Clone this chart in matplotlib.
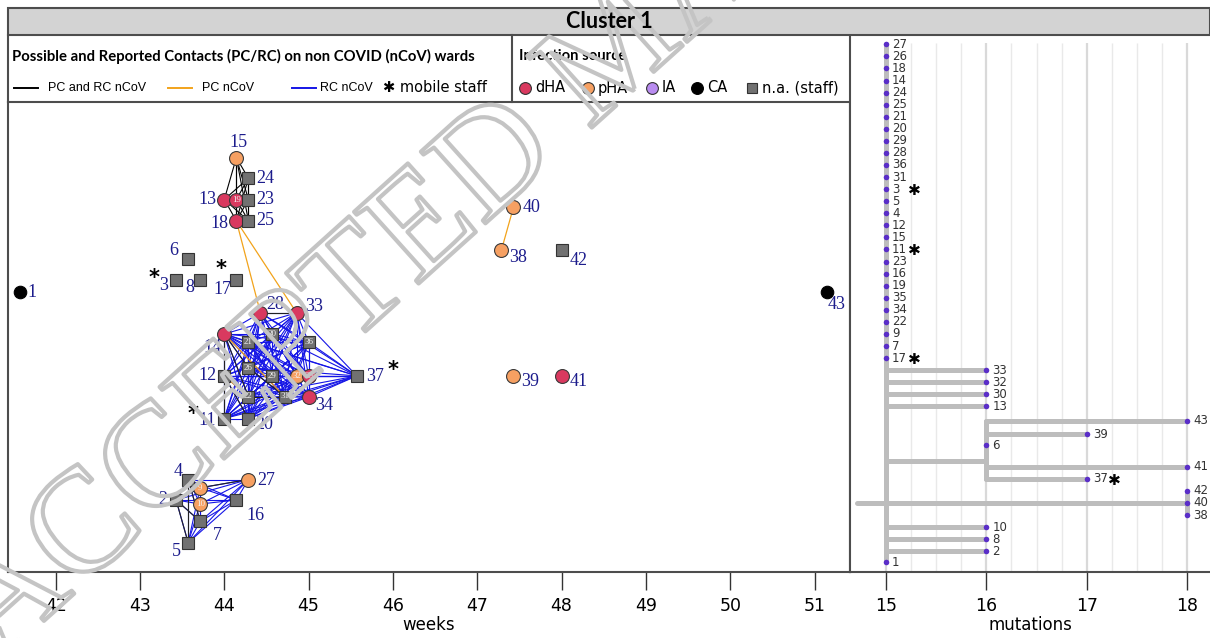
import numpy as np
import matplotlib.pyplot as plt
import matplotlib.patheffects as pe
from matplotlib.lines import Line2D
from matplotlib.patches import Rectangle
from itertools import combinations

# ---------------- data ----------------
# nodes of the contact network: id, calendar week, weekday, vertical layout row, infection source
node_id = [1, 15, 24, 13, 19, 23, 18, 25, 6, 3, 8, 17, 28, 33, 14, 21, 30, 36, 12, 26, 29, 32,
           35, 37, 22, 31, 34, 11, 20, 4, 9, 27, 2, 10, 16, 7, 5, 40, 38, 42, 39, 41, 43]
node_week = [41, 44, 44, 44, 44, 44, 44, 44, 43, 43, 43, 44, 44, 44, 44, 44, 44, 45, 44, 44, 44, 44,
             45, 45, 44, 44, 45, 44, 44, 43, 43, 44, 43, 43, 44, 43, 43, 47, 47, 48, 47, 48, 51]
node_day = [4, 1, 2, 0, 1, 2, 1, 2, 4, 3, 5, 1, 3, 6, 0, 2, 4, 0, 0, 2, 4, 6,
            0, 4, 2, 5, 0, 0, 2, 4, 5, 2, 3, 5, 1, 5, 4, 3, 2, 0, 3, 0, 1]
node_row = [291.5, 157.7, 178.2, 199.5, 199.5, 199.5, 220.8, 220.8, 258.5, 279.5, 279.5, 280.0,
            312.8, 312.8, 334.0, 342.3, 334.0, 342.3, 375.9, 367.7, 375.9, 375.9, 375.9, 375.9,
            396.5, 396.5, 397.0, 418.5, 418.5, 479.5, 487.8, 479.5, 500.0, 504.0, 500.0, 521.4,
            542.7, 207.4, 250.3, 249.6, 375.9, 375.9, 291.5]
node_src = ['CA', 'pHA', 'na', 'dHA', 'dHA', 'na', 'dHA', 'na', 'na', 'na', 'na', 'na',
            'dHA', 'dHA', 'dHA', 'na', 'na', 'na', 'na', 'na', 'na', 'pHA', 'dHA', 'na',
            'na', 'na', 'dHA', 'na', 'na', 'na', 'pHA', 'pHA', 'na', 'pHA', 'na', 'na', 'na',
            'pHA', 'pHA', 'na', 'pHA', 'dHA', 'CA']
mobile_staff = [3, 11, 17, 37]

# contacts: wards where everybody had contact with everybody, plus single contacts
ward_black = [15, 24, 13, 19, 23, 18, 25]
ward_blue_a = [28, 33, 14, 21, 30, 36, 12, 26, 29, 32, 35, 37, 22, 31, 34, 11, 20]
ward_blue_b = [4, 9, 27, 2, 10, 16, 7, 5]
edges_black = [(28, 33), (14, 12), (12, 11), (14, 26), (14, 22), (22, 31), (26, 31), (12, 20),
               (4, 2), (2, 5), (4, 5), (4, 7), (2, 7), (9, 27), (2, 9)]
edges_orange = [(18, 28), (18, 33), (40, 38), (14, 31), (12, 22)]

# phylogeny (mutations)
tip_label = [27, 26, 18, 14, 24, 25, 21, 20, 29, 28, 36, 31, 3, 5, 4, 12, 15, 11, 23, 16, 19, 35,
             34, 22, 9, 7, 17, 33, 32, 30, 13, 43, 39, 6, 41, 37, 42, 40, 38, 10, 8, 2, 1]
tip_mut = [15, 15, 15, 15, 15, 15, 15, 15, 15, 15, 15, 15, 15, 15, 15, 15, 15, 15, 15, 15, 15, 15,
           15, 15, 15, 15, 15, 16, 16, 16, 16, 18, 17, 16, 18, 17, 18, 18, 18, 16, 16, 16, 15]
tip_row = [0, 1, 2, 3, 4, 5, 6, 7, 8, 9, 10, 11, 12, 13, 14, 15, 16, 17, 18, 19, 20, 21,
           22, 23, 24, 25, 26, 27, 28, 29, 30, 31.2, 32.3, 33.2, 35, 36, 37, 38, 39, 40, 41, 42, 42.9]
# branches: horizontal (x0, x1, row) and vertical (x, row0, row1)
branch_h = [(14.71, 18, 38), (15, 16, 27), (15, 16, 28), (15, 16, 29), (15, 16, 30),
            (15, 16, 34.5), (16, 18, 31.2), (16, 17, 32.3), (16, 18, 35), (16, 17, 36),
            (15, 16, 40), (15, 16, 41), (15, 16, 42)]
branch_v = [(15, 0, 42.9), (16, 31.2, 36), (18, 37, 39)]

week_ticks = [42, 43, 44, 45, 46, 47, 48, 49, 50, 51]
mut_ticks = [15, 16, 17, 18]

# ---------------- style ----------------
col = {'dHA': '#d9395f', 'pHA': '#f6a062', 'IA': '#b98cf0', 'CA': '#000000', 'na': '#717171'}
blue, orange, frame = '#1515e6', '#f2a31b', '#4d4d4d'
label_blue = '#1c1c8c'
# label offsets (px right, px down, alignment)
lab_off = {1: (8, 1, 'left'), 15: (2, -15, 'center'), 24: (8, 0, 'left'), 13: (-8, 0, 'right'),
           23: (8, 0, 'left'), 18: (-8, 3, 'right'), 25: (8, 0, 'left'), 6: (-14, -8, 'center'),
           3: (-12, 6, 'center'), 8: (-10, 8, 'center'), 17: (-14, 9, 'center'),
           28: (15, -8, 'center'), 33: (18, -6, 'center'), 14: (-12, 13, 'center'),
           12: (-8, 0, 'right'), 37: (9, 1, 'left'), 34: (16, 9, 'center'), 11: (-8, 2, 'right'),
           20: (16, 6, 'center'), 4: (-10, -8, 'center'), 27: (9, 1, 'left'), 2: (-9, 0, 'right'),
           16: (19, 16, 'center'), 7: (17, 14, 'center'), 5: (-12, 9, 'center'),
           40: (9, 0, 'left'), 38: (17, 7, 'center'), 42: (17, 11, 'center'),
           39: (17, 6, 'center'), 41: (17, 6, 'center'), 43: (10, 13, 'center')}
star_off = {3: (-22, -1), 17: (-15, -11), 11: (-31, -5), 37: (36, -6)}

W, H = 1210, 638
fig = plt.figure(figsize=(W / 100, H / 100), dpi=100)


def fx(x):
    return x / W


def fy(y):
    return 1 - y / H


# title band and legend frame
fig.add_artist(Rectangle((fx(8), fy(35)), fx(1210 - 8), 27 / H, transform=fig.transFigure,
                         facecolor='#d3d3d3', edgecolor=frame, lw=1.5))
fig.text(fx(609), fy(21), 'Cluster 1', ha='center', va='center', fontsize=15.5,
         fontweight='bold', family='Lato', zorder=12)
for (x0, y0, x1, y1) in [(8, 35, 8, 102), (512, 35, 512, 102)]:
    fig.add_artist(Line2D([fx(x0), fx(x1)], [fy(y0), fy(y1)], color=frame, lw=1.5,
                          transform=fig.transFigure))

fig.text(fx(12), fy(56), 'Possible and Reported Contacts (PC/RC) on non COVID (nCoV) wards',
         va='center', fontsize=10.7, fontweight='bold', family='Lato')
fig.text(fx(519), fy(56), 'Infection source', va='center', fontsize=10.7,
         fontweight='bold', family='Lato')
for x0, c, txt, tx in [(14, 'black', 'PC and RC nCoV', 48), (168, orange, 'PC nCoV', 202),
                       (292, blue, 'RC nCoV', 320)]:
    fig.add_artist(Line2D([fx(x0), fx(x0 + 24)], [fy(88), fy(88)], color=c, lw=1.4,
                          transform=fig.transFigure))
    fig.text(fx(tx), fy(88), txt, va='center', fontsize=9, family='Liberation Sans')
fig.text(fx(383), fy(88), '✱ mobile staff', va='center', fontsize=10.5, family='DejaVu Sans')
for x0, key, txt in [(525, 'dHA', 'dHA'), (588, 'pHA', 'pHA'), (652, 'IA', 'IA'),
                     (697, 'CA', 'CA')]:
    fig.add_artist(Line2D([fx(x0)], [fy(88)], marker='o', ms=8.5, mfc=col[key],
                          mec='#333333' if key != 'CA' else 'black', mew=0.8,
                          transform=fig.transFigure))
    fig.text(fx(x0 + 10), fy(88), txt, va='center', fontsize=10.5, family='DejaVu Sans')
fig.add_artist(Line2D([fx(752)], [fy(88)], marker='s', ms=7.5, mfc=col['na'], mec='#333333',
                      mew=0.8, transform=fig.transFigure))
fig.text(fx(762), fy(88), 'n.a. (staff)', va='center', fontsize=10.5, family='DejaVu Sans')

# ---------------- network panel ----------------
ax = fig.add_axes([fx(8), fy(572), fx(850 - 8), (572 - 102) / H])
pos = {n: (w + d / 7, r) for n, w, d, r in zip(node_id, node_week, node_day, node_row)}
src = dict(zip(node_id, node_src))


def draw_edges(pairs, c, lw, z):
    for a, b in pairs:
        ax.plot([pos[a][0], pos[b][0]], [pos[a][1], pos[b][1]], color=c, lw=lw, zorder=z)


draw_edges(combinations(ward_blue_a, 2), blue, 0.8, 1)
draw_edges(combinations(ward_blue_b, 2), blue, 0.8, 1)
draw_edges(combinations(ward_black, 2), 'black', 0.8, 2)
draw_edges(edges_black, '#222222', 0.8, 2)
draw_edges(edges_orange, orange, 0.9, 2)

for n in node_id:
    x, y = pos[n]
    s = src[n]
    if s == 'na':
        ax.plot(x, y, marker='s', ms=9, mfc=col['na'], mec='#333333', mew=0.8, zorder=3)
    else:
        ax.plot(x, y, marker='o', ms=10 if s != 'CA' else 9, mfc=col[s],
                mec='#3a3a3a' if s != 'CA' else 'black', mew=0.8, zorder=3)
    if n in lab_off:
        dx, dy, ha = lab_off[n]
        ax.annotate(str(n), (x, y), xytext=(dx * 0.72, -dy * 0.72), textcoords='offset points',
                    ha=ha, va='center', color=label_blue, fontsize=13,
                    family='Liberation Serif', zorder=4)
    else:
        ax.text(x, y, str(n), ha='center', va='center', color='#f2f2f2', fontsize=6.5,
                family='Liberation Serif', zorder=4)
    if n in star_off:
        dx, dy = star_off[n]
        ax.annotate('*', (x, y), xytext=(dx * 0.72, -dy * 0.72), textcoords='offset points',
                    ha='center', va='center', fontsize=15, fontweight='bold', zorder=4)

ax.set_xlim(41.435, 51.42)
ax.set_ylim(572, 102)
ax.set_yticks([])
ax.set_xticks(week_ticks)
ax.set_xlabel('weeks', fontsize=12, family='DejaVu Sans', labelpad=1)

# ---------------- phylogeny panel ----------------
ax2 = fig.add_axes([fx(850), fy(572), fx(W - 850), (572 - 35) / H])
for g in np.arange(15, 18.01, 0.25):
    major = float(g).is_integer()
    ax2.vlines(g, -0.1, 44, color='#d9d9d9' if major else '#e9e9e9', lw=1.6 if major else 1,
               zorder=0)
for x0, x1, r in branch_h:
    ax2.plot([x0, x1], [r, r], color='#bdbdbd', lw=3.6, solid_capstyle='round', zorder=1)
for x, r0, r1 in branch_v:
    ax2.plot([x, x], [r0, r1], color='#bdbdbd', lw=3.6, solid_capstyle='round', zorder=1)
ax2.scatter(tip_mut, tip_row, s=16, color='#5a2ec8', zorder=3, linewidths=0)
for lab, m, r in zip(tip_label, tip_mut, tip_row):
    ax2.text(m + 0.06, r, str(lab), va='center', ha='left', fontsize=8.5, color='#333333',
             family='DejaVu Sans', zorder=4)
    if lab in mobile_staff:
        ax2.text(m + 0.28, r + 0.1, '✱', va='center', ha='center', fontsize=11,
                 family='DejaVu Sans', zorder=4)
ax2.set_xlim(14.641, 18.229)
ax2.set_ylim(43.72, -0.77)
ax2.set_yticks([])
ax2.set_xticks(mut_ticks)
ax2.set_xlabel('mutations', fontsize=12, family='DejaVu Sans', labelpad=1)

for a in (ax, ax2):
    for sp in a.spines.values():
        sp.set_color(frame)
        sp.set_linewidth(1.5)
    a.tick_params(axis='x', length=13, width=1, color='#333333', pad=5, labelsize=12.5)
ax2.spines['right'].set_visible(False)
ax2.spines['top'].set_visible(False)

# watermark
fig.text(fx(-4), fy(664), 'ACCEPTED MANUSCRIPT', rotation=42, rotation_mode='anchor',
         ha='left', va='baseline', fontsize=106, family='Liberation Serif', color='none',
         path_effects=[pe.Stroke(linewidth=3, foreground='#c4c4c4')], zorder=10)

plt.savefig('out.png', dpi=100)
